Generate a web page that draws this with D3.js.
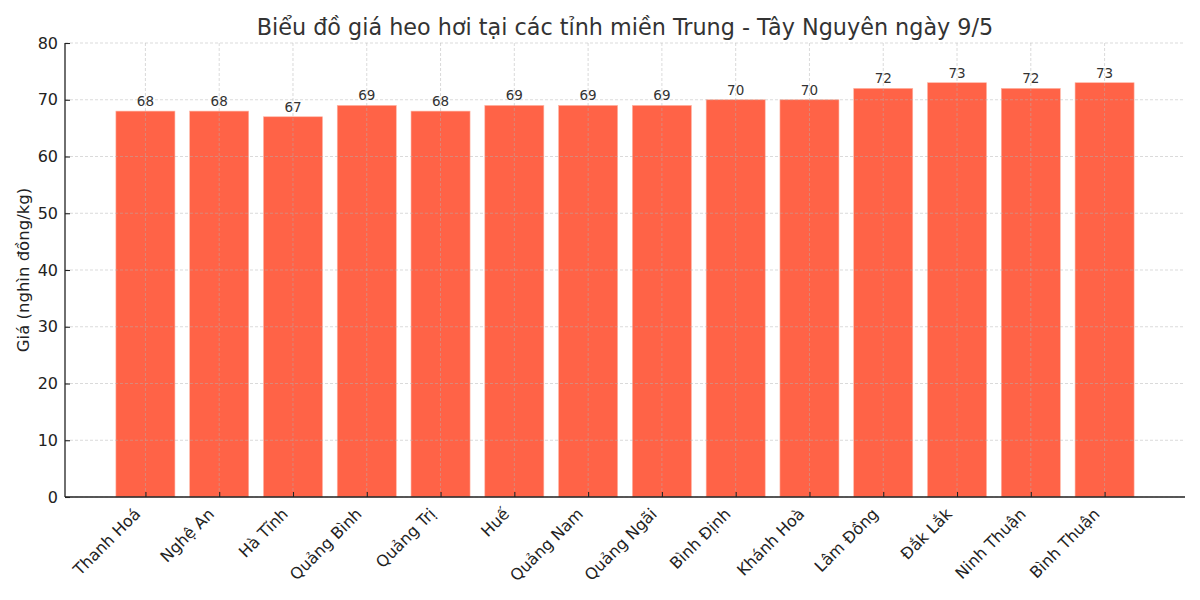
<!DOCTYPE html>
<html>
<head>
<meta charset="utf-8">
<script src="https://cdn.jsdelivr.net/npm/d3@7"></script>
<style>
  body { margin: 0; background: #fff; }
  text { font-family: "DejaVu Sans", sans-serif; }
</style>
</head>
<body>
<div id="chart"></div>
<script>
// gia heo hoi mien Trung - Tay Nguyen, ngay 9/5
var provinces = ["Thanh Hoá", "Nghệ An", "Hà Tĩnh", "Quảng Bình", "Quảng Trị", "Huế",
                 "Quảng Nam", "Quảng Ngãi", "Bình Định", "Khánh Hoà", "Lâm Đồng",
                 "Đắk Lắk", "Ninh Thuận", "Bình Thuận"];
var prices = [68, 68, 67, 69, 68, 69, 69, 69, 70, 70, 72, 73, 72, 73];
var yTicks = [0, 10, 20, 30, 40, 50, 60, 70, 80];

var W = 1200, H = 600;
var margin = {top: 43, right: 15, bottom: 103, left: 65};
var iw = W - margin.left - margin.right,
    ih = H - margin.top - margin.bottom;

var svg = d3.select("#chart").append("svg")
    .attr("width", W)
    .attr("height", H);

var g = svg.append("g")
    .attr("transform", "translate(" + margin.left + "," + margin.top + ")");

// matplotlib-like x range: bars of width 0.8, 5% margin
var n = provinces.length;
var lo = -0.4 - 0.05 * (n - 1 + 0.8), hi = n - 1 + 0.4 + 0.05 * (n - 1 + 0.8);
var x = d3.scaleLinear().domain([lo, hi]).range([0, iw]);
var y = d3.scaleLinear().domain([0, 80]).range([ih, 0]);

// bars
g.selectAll("rect.bar")
    .data(prices)
    .enter().append("rect")
    .attr("class", "bar")
    .attr("x", function(d, i){ return x(i - 0.4); })
    .attr("width", function(){ return x(0.4) - x(-0.4); })
    .attr("y", function(d){ return y(d); })
    .attr("height", function(d){ return ih - y(d); })
    .style("fill", "#ff6347")
    .style("stroke", "#ffb3a3")
    .style("stroke-width", 0.6);

// grid (on top of the bars, like matplotlib)
g.append("g").selectAll("line")
    .data(yTicks)
    .enter().append("line")
    .attr("x1", 0).attr("x2", iw)
    .attr("y1", function(d){ return y(d); })
    .attr("y2", function(d){ return y(d); })
    .style("stroke", "#b0b0b0")
    .style("stroke-opacity", 0.6)
    .style("stroke-width", 0.8)
    .style("stroke-dasharray", "3,2");

g.append("g").selectAll("line")
    .data(provinces)
    .enter().append("line")
    .attr("x1", function(d, i){ return x(i); })
    .attr("x2", function(d, i){ return x(i); })
    .attr("y1", 0).attr("y2", ih)
    .style("stroke", "#b0b0b0")
    .style("stroke-opacity", 0.6)
    .style("stroke-width", 0.8)
    .style("stroke-dasharray", "3,2");

// bar labels
g.selectAll("text.val")
    .data(prices)
    .enter().append("text")
    .attr("class", "val")
    .attr("x", function(d, i){ return x(i); })
    .attr("y", function(d){ return y(d) - 5; })
    .attr("text-anchor", "middle")
    .style("font-size", "13.5px")
    .style("fill", "#333")
    .text(function(d){ return d; });

// axes, ticks pointing inward
var yAxis = g.append("g")
    .call(d3.axisLeft(y).tickValues(yTicks).tickSize(-5).tickPadding(7));
var xAxis = g.append("g")
    .attr("transform", "translate(0," + ih + ")")
    .call(d3.axisBottom(x).tickValues(d3.range(n)).tickSize(-5).tickFormat(""));

[yAxis, xAxis].forEach(function(a){
  a.select(".domain").style("stroke", "#222").style("stroke-width", 1.3);
  a.selectAll(".tick line").style("stroke", "#222").style("stroke-width", 1.1);
  a.selectAll(".tick text").style("font-size", "16px").style("fill", "#222")
    .style("font-family", "DejaVu Sans");
});
yAxis.select(".domain").attr("d", "M0," + ih + "V0");
xAxis.select(".domain").attr("d", "M0,0H" + iw);

// rotated x labels (baseline end just left of the tick)
g.append("g").selectAll("text")
    .data(provinces)
    .enter().append("text")
    .attr("transform", function(d, i){
      return "translate(" + (x(i) - 4) + "," + (ih + 18) + ") rotate(-45)";
    })
    .attr("text-anchor", "end")
    .style("font-size", "16px")
    .style("fill", "#222")
    .text(function(d){ return d; });

// title
svg.append("text")
    .attr("x", margin.left + iw / 2)
    .attr("y", 35)
    .attr("text-anchor", "middle")
    .style("font-size", "22.3px")
    .style("fill", "#333")
    .text("Biểu đồ giá heo hơi tại các tỉnh miền Trung - Tây Nguyên ngày 9/5");

// y label
svg.append("text")
    .attr("transform", "translate(29," + (margin.top + ih / 2) + ") rotate(-90)")
    .attr("text-anchor", "middle")
    .style("font-size", "16.5px")
    .style("fill", "#222")
    .text("Giá (nghìn đồng/kg)");
</script>
</body>
</html>
